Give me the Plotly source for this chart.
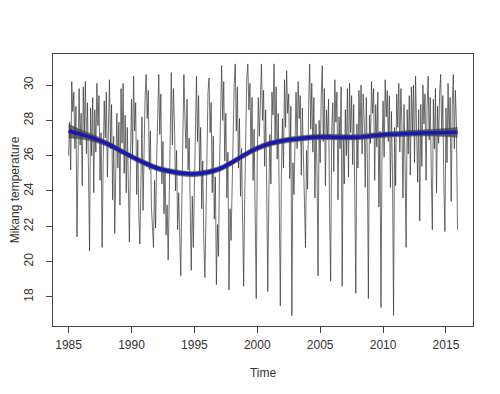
import plotly.graph_objects as go

# Monthly values, Jan 1985 .. Dec 2015 (one list per year)
years = list(range(1985, 2016))
temp_by_year = [
    [26.0, 27.9, 25.2, 30.2, 28.5, 29.6, 26.4, 28.8, 21.4, 27.0, 29.8, 26.6],  # 1985
    [28.4, 24.3, 29.9, 27.2, 30.2, 26.1, 29.0, 25.0, 20.6, 28.7, 26.0, 29.3],  # 1986
    [23.9, 28.6, 26.2, 30.1, 27.7, 29.4, 24.6, 27.3, 20.8, 25.8, 29.1, 27.0],  # 1987
    [29.6, 24.8, 28.0, 30.3, 26.4, 28.9, 23.5, 27.1, 21.6, 24.2, 28.4, 25.3],  # 1988
    [27.9, 23.2, 29.8, 26.7, 30.1, 25.0, 28.3, 23.9, 27.6, 24.4, 21.1, 25.6],  # 1989
    [29.2, 26.0, 30.5, 27.4, 29.0, 23.8, 26.9, 22.6, 21.0, 24.5, 28.2, 22.9],  # 1990
    [26.3, 29.4, 30.6, 28.1, 29.7, 25.2, 27.4, 23.1, 22.0, 20.8, 24.6, 21.9],  # 1991
    [25.8, 29.0, 30.6, 27.2, 29.5, 24.4, 26.8, 22.7, 25.3, 21.5, 23.2, 20.1],  # 1992
    [24.6, 28.3, 30.7, 26.6, 29.8, 27.8, 24.0, 26.3, 21.8, 23.9, 20.6, 19.2],  # 1993
    [23.4, 27.7, 30.6, 28.1, 26.4, 29.2, 25.2, 27.0, 22.3, 19.5, 23.7, 20.8],  # 1994
    [24.2, 28.9, 30.5, 26.8, 29.4, 24.9, 27.6, 23.0, 25.7, 21.2, 19.1, 22.4],  # 1995
    [26.1, 29.6, 30.4, 27.3, 29.0, 23.9, 27.1, 22.4, 24.8, 18.7, 22.1, 20.3],  # 1996
    [25.4, 29.8, 31.1, 28.0, 30.2, 25.7, 28.4, 23.6, 26.2, 18.4, 23.0, 21.2],  # 1997
    [24.8, 28.6, 30.1, 31.2, 27.4, 29.9, 25.3, 28.1, 23.7, 26.4, 21.9, 18.6],  # 1998
    [23.5, 28.2, 30.4, 31.2, 28.6, 30.1, 26.2, 29.3, 24.6, 27.5, 22.8, 17.9],  # 1999
    [25.9, 29.3, 27.1, 30.2, 31.2, 28.0, 29.7, 25.4, 28.6, 24.1, 18.3, 23.6],  # 2000
    [27.2, 24.4, 29.6, 28.3, 31.2, 26.9, 29.9, 25.8, 28.4, 23.2, 17.5, 24.9],  # 2001
    [28.1, 25.3, 30.3, 27.6, 30.8, 28.4, 29.5, 24.7, 28.8, 16.93, 25.6, 23.8],  # 2002
    [27.9, 29.6, 26.4, 30.2, 28.1, 29.4, 24.9, 28.7, 26.0, 23.4, 20.8, 26.3],  # 2003
    [24.1, 28.9, 31.2, 27.5, 30.1, 26.2, 29.3, 23.6, 27.8, 25.2, 19.2, 28.0],  # 2004
    [25.6, 29.4, 31.1, 26.8, 29.8, 24.3, 28.6, 26.9, 29.2, 22.7, 18.9, 27.4],  # 2005
    [29.0, 25.1, 30.3, 27.9, 29.6, 23.5, 28.2, 26.4, 29.9, 18.6, 27.1, 24.4],  # 2006
    [28.6, 26.0, 29.8, 24.8, 30.1, 27.3, 29.4, 25.5, 28.9, 23.9, 18.2, 27.8],  # 2007
    [25.3, 29.7, 27.2, 30.0, 26.1, 29.5, 28.0, 24.2, 29.3, 25.8, 17.9, 28.3],  # 2008
    [26.7, 30.2, 28.4, 29.8, 24.6, 28.9, 26.5, 29.6, 23.1, 27.4, 17.4, 26.0],  # 2009
    [29.1, 25.9, 30.3, 28.2, 29.7, 26.8, 29.4, 24.2, 28.5, 25.0, 16.95, 27.6],  # 2010
    [24.3, 29.5, 27.6, 30.1, 26.2, 29.8, 27.7, 23.6, 28.9, 25.4, 20.8, 28.6],  # 2011
    [26.1, 29.4, 24.9, 29.9, 27.3, 30.0, 25.6, 30.5, 28.1, 24.5, 28.6, 22.3],  # 2012
    [28.9, 25.4, 30.0, 27.8, 29.5, 24.6, 28.7, 30.5, 26.9, 29.3, 25.0, 21.8],  # 2013
    [29.2, 26.4, 29.8, 23.9, 28.8, 26.7, 29.6, 30.6, 27.2, 29.4, 24.3, 21.7],  # 2014
    [28.7, 25.6, 30.1, 27.1, 29.3, 23.4, 28.9, 30.6, 26.4, 29.7, 27.8, 21.8],  # 2015
]

# Smoothed trend read at knots, with half-width of its grey band
trend_time = [1985.0, 1986.0, 1987.0, 1988.0, 1989.0, 1990.0, 1991.0, 1992.0,
              1993.0, 1994.0, 1995.0, 1996.0, 1997.0, 1998.0, 1999.0, 2000.0,
              2001.0, 2002.0, 2003.0, 2004.0, 2005.0, 2006.0, 2007.0, 2008.0,
              2009.0, 2010.0, 2011.0, 2012.0, 2013.0, 2014.0, 2015.0, 2015.917]
trend_value = [27.40, 27.20, 26.98, 26.70, 26.33, 25.95, 25.60, 25.30,
               25.12, 25.00, 24.96, 25.05, 25.25, 25.62, 26.05, 26.42,
               26.68, 26.84, 26.94, 27.02, 27.06, 27.05, 27.04, 27.05,
               27.12, 27.18, 27.22, 27.26, 27.28, 27.30, 27.31, 27.32]
band_half = [0.40, 0.26, 0.19, 0.16, 0.15, 0.15, 0.15, 0.15,
             0.15, 0.15, 0.15, 0.15, 0.15, 0.15, 0.15, 0.15,
             0.15, 0.15, 0.15, 0.15, 0.15, 0.15, 0.15, 0.15,
             0.15, 0.15, 0.15, 0.16, 0.17, 0.19, 0.23, 0.28]

x_ticks = [1985, 1990, 1995, 2000, 2005, 2010, 2015]
y_ticks = [18, 20, 22, 24, 26, 28, 30]

time = []
temp = []
for y, vals in zip(years, temp_by_year):
    for m, v in enumerate(vals):
        time.append(y + m / 12)
        temp.append(v)

upper = [v + h for v, h in zip(trend_value, band_half)]
lower = [v - h for v, h in zip(trend_value, band_half)]

fig = go.Figure()
fig.add_trace(go.Scatter(x=time, y=temp, mode="lines",
                         line=dict(color="#333333", width=0.7),
                         hoverinfo="skip", showlegend=False))
fig.add_trace(go.Scatter(x=trend_time, y=lower, mode="lines",
                         line=dict(color="rgba(70,70,70,0.8)", width=0.5, shape="spline"),
                         showlegend=False))
fig.add_trace(go.Scatter(x=trend_time, y=upper, mode="lines", fill="tonexty",
                         fillcolor="rgba(70,70,70,0.8)",
                         line=dict(color="rgba(70,70,70,0.8)", width=0.5, shape="spline"),
                         showlegend=False))
fig.add_trace(go.Scatter(x=trend_time, y=trend_value, mode="lines",
                         line=dict(color="#1818b4", width=3.5, shape="spline"),
                         showlegend=False))

axis_common = dict(showgrid=False, zeroline=False, showline=True, mirror=True,
                   linecolor="#444", linewidth=1, ticks="outside", ticklen=6,
                   tickcolor="#444", automargin=False,
                   tickfont=dict(family="Liberation Sans, Arial", size=12, color="#333"))

# page body has an 8px margin, so the figure is 8px smaller and margins shifted
fig.update_layout(
    width=492, height=386,
    margin=dict(l=45, r=27, t=46, b=68),
    paper_bgcolor="white", plot_bgcolor="white",
    font=dict(family="Liberation Sans, Arial", size=12, color="#333"),
    xaxis=dict(range=[1983.76, 2017.15], tickvals=x_ticks, ticklabelstandoff=2,
               title=dict(text="Time", standoff=17, font=dict(size=12)), **axis_common),
    yaxis=dict(range=[16.35, 31.76], tickvals=y_ticks, tickangle=-90,
               ticklabelstandoff=8,
               title=dict(text="Mikang temperature", standoff=2, font=dict(size=12)),
               **axis_common),
)

fig.write_html("out.html")
